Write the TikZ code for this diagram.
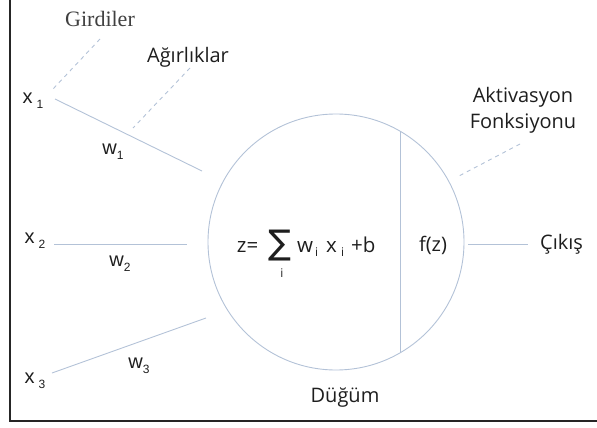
\documentclass[tikz,border=0pt]{standalone}
\usepackage{fontspec}
\setmainfont{Open Sans}
\newfontfamily\serifn{Liberation Serif}
\newfontfamily\arialn{Liberation Sans}
\newfontfamily\djv{DejaVu Sans}
\usetikzlibrary{calc}
\definecolor{ln}{HTML}{B3C2D7}
\definecolor{txt}{HTML}{1E1E1E}
\newcommand{\mysub}[1]{\raisebox{-5pt}{\fontsize{12}{12}\selectfont #1}}
\begin{document}
\begin{tikzpicture}[x=1pt,y=-1pt,
  lbl/.style={text=txt, inner sep=0pt, font=\fontsize{20}{24}\selectfont},
  fml/.style={text=txt, inner sep=0pt, anchor=base west, font=\fontsize{20.5}{24}\selectfont},
  fsub/.style={text=txt, inner sep=0pt, anchor=base west, font=\fontsize{12}{12}\selectfont},
  var/.style={text=txt, inner sep=0pt, font=\arialn\fontsize{20}{24}\selectfont},
  conn/.style={draw=ln, line width=0.9pt},
  hint/.style={draw=ln, line width=0.9pt, dash pattern=on 4pt off 4pt},
  frame/.style={draw=black!85, line width=1.6pt}]
\useasboundingbox (0,0) rectangle (597,428);
% frame
\coordinate (ftop) at (10,0);
\coordinate (fcorner) at (10,421);
\coordinate (fright) at (597,421);
\draw[frame] (ftop) -- (fcorner) -- (fright);
% neuron
\node[circle, draw=ln, line width=0.9pt, minimum size=256pt, inner sep=0pt] (neuron) at (336,242) {};
\draw[conn] (neuron.60.4) -- (neuron.-60.4);
% formula
\node[fml, anchor=base east] (zeq) at (258.5,252) {z=};
\node[text=txt, inner sep=0pt, font=\djv\fontsize{34}{34}\selectfont] (sigma) at (280,246) {∑};
\node[lbl, font=\fontsize{12}{12}\selectfont] (sigi) at (282,273) {i};
\node[fml] (wi) at (297,252) {w};
\node[fsub] (wsub) at (315,256) {i};
\node[fml] (xi) at (326,252) {x};
\node[fsub] (xsub) at (341,256) {i};
\node[fml] (plusb) at (351,252) {+b};
\node[lbl, font=\fontsize{20}{24}\selectfont] (fz) at (433,245) {f(z)};
% inputs
\node[var] (x1) at (33,101) {x\hspace{4pt}\mysub{1}};
\node[var] (x2) at (35,241) {x\hspace{4pt}\mysub{2}};
\node[var] (x3) at (35,381) {x\hspace{4pt}\mysub{3}};
\coordinate (s1) at (55,99);  \coordinate (e1) at (202,171);
\coordinate (s2) at (54,244); \coordinate (e2) at (187,244);
\coordinate (s3) at (52,373); \coordinate (e3) at (206,318);
\draw[conn] (s1) -- (e1);
\draw[conn] (s2) -- (e2);
\draw[conn] (s3) -- (e3);
\node[var] (w1) at (113,152) {w\mysub{1}};
\node[var] (w2) at (120,264) {w\mysub{2}};
\node[var] (w3) at (139,366) {w\mysub{3}};
% output
\node[lbl, anchor=west] (cikis) at (540,244) {Çıkış};
\coordinate (o1) at (468,244);
\draw[conn, shorten >=12pt] (o1) -- (cikis.west);
% annotations
\node[text=txt!85, inner sep=0pt, font=\serifn\fontsize{22}{26}\selectfont] (girdiler) at (100,19) {Girdiler};
\node[lbl] (agirlik) at (188,57) {Ağırlıklar};
\node[lbl, align=center, font=\fontsize{20}{26}\selectfont] (aktiv) at (523,110) {Aktivasyon\\Fonksiyonu};
\node[lbl] (dugum) at (345,398) {Düğüm};
\coordinate (g1) at (100,39); \coordinate (g2) at (53,89);
\coordinate (a1) at (190,68); \coordinate (a2) at (133,128);
\coordinate (k1) at (520,144); \coordinate (k2) at (457,177);
\draw[hint] (g1) -- (g2);
\draw[hint] (a1) -- (a2);
\draw[hint] (k1) -- (k2);
\end{tikzpicture}
\end{document}
